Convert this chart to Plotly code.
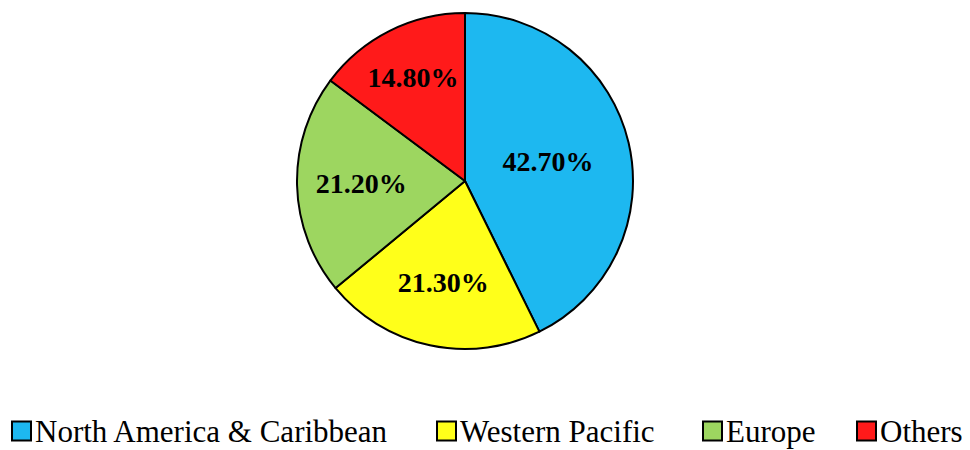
import plotly.graph_objects as go

regions = ["North America & Caribbean", "Western Pacific", "Europe", "Others"]
shares = [42.7, 21.3, 21.2, 14.8]
colors = ["#1DB8F0", "#FFFF1A", "#9DD660", "#FF1A1A"]

W, H = 970, 450
OFF = 8  # default page body margin shifts the figure by 8px

fig = go.Figure(go.Pie(
    labels=regions,
    values=shares,
    sort=False,
    direction="clockwise",
    rotation=0,
    marker=dict(colors=colors, line=dict(color="black", width=2)),
    texttemplate="<b>%{value:.2f}%</b>",
    textposition="inside",
    insidetextorientation="horizontal",
    textfont=dict(family="Liberation Serif", size=28, color="black"),
    hoverinfo="label+value",
    showlegend=False,
    domain=dict(x=[289/W, 625/W], y=[1-341/H, 1-5/H]),
))

# custom legend (square swatches + serif labels) along the bottom
legend_x = [12, 437, 703, 857]   # left edge of each swatch, page px
sw = 19
ly = 431 - OFF
shapes, annotations = [], []
for name, col, xp in zip(regions, colors, legend_x):
    x0 = xp - OFF
    shapes.append(dict(type="rect", xref="paper", yref="paper",
                       x0=x0/W, x1=(x0+sw)/W,
                       y0=1-(ly+sw/2)/H, y1=1-(ly-sw/2)/H,
                       fillcolor=col, line=dict(color="black", width=2)))
    annotations.append(dict(text=name, xref="paper", yref="paper",
                            x=(x0+sw+2)/W, y=1-ly/H,
                            xanchor="left", yanchor="middle", showarrow=False,
                            font=dict(family="Liberation Serif", size=31, color="black")))

fig.update_layout(
    width=W, height=H,
    margin=dict(l=0, r=0, t=0, b=0),
    paper_bgcolor="white",
    showlegend=False,
    shapes=shapes,
    annotations=annotations,
)

fig.write_html("out.html")
